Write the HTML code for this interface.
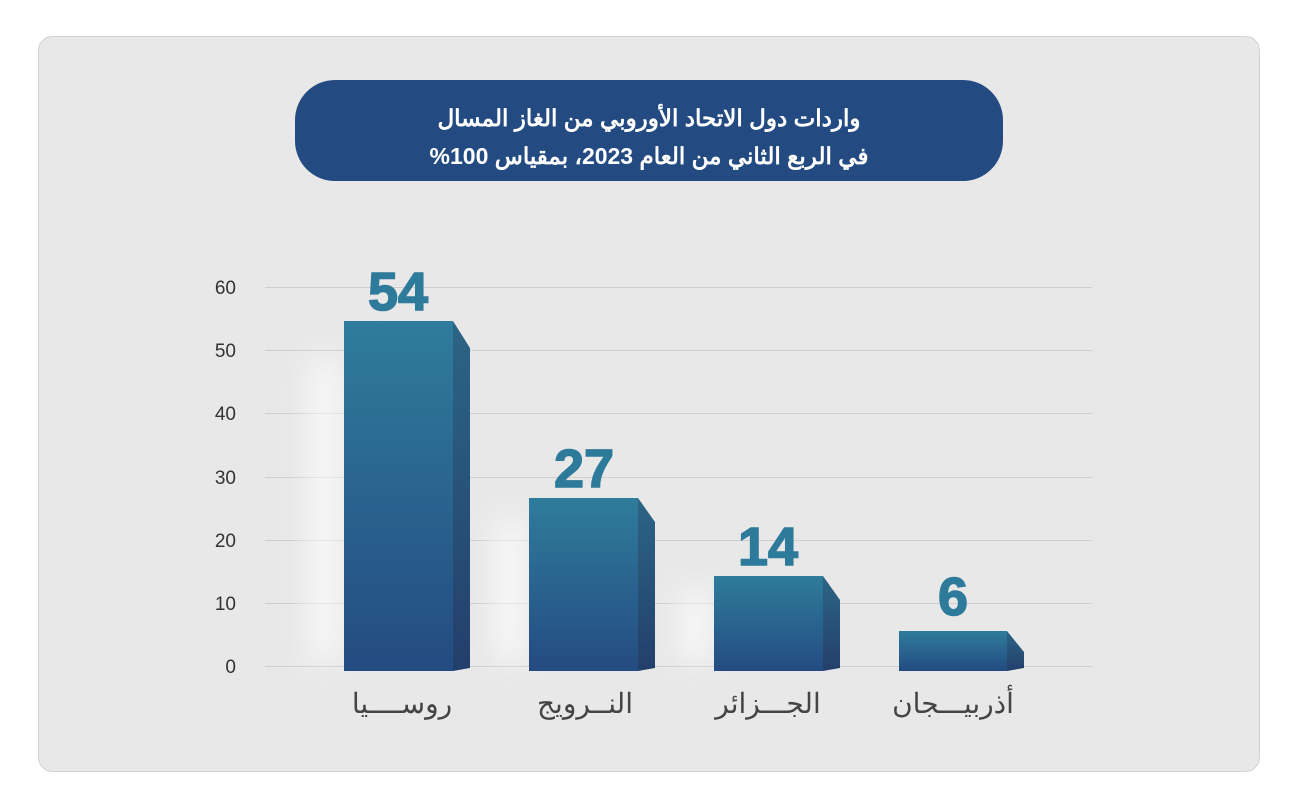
<!DOCTYPE html>
<html><head><meta charset="utf-8">
<style>
html,body{margin:0;padding:0;background:#fff;width:1296px;height:801px;overflow:hidden}
svg{display:block}
</style></head>
<body>
<svg width="1296" height="801" viewBox="0 0 1296 801" xmlns="http://www.w3.org/2000/svg">
<defs>
<linearGradient id="fg" x1="0" y1="0" x2="0" y2="1">
<stop offset="0" stop-color="#2f7c9c"/><stop offset="1" stop-color="#244b81"/>
</linearGradient>
<linearGradient id="sg" x1="0" y1="0" x2="0" y2="1">
<stop offset="0" stop-color="#2c6585"/><stop offset="1" stop-color="#233f6b"/>
</linearGradient>
<filter id="bl" x="-50%" y="-50%" width="200%" height="200%"><feGaussianBlur stdDeviation="14"/></filter>
</defs>
<rect x="38.5" y="36.5" width="1221" height="735" rx="14" fill="#e8e8e8" stroke="#d2d2d2"/>
<rect x="295" y="80" width="708" height="101" rx="40" fill="#244b81"/>
<text x="649" y="126" text-anchor="middle" fill="#fff" font-family="'Liberation Sans','Noto Sans CJK SC',sans-serif" font-weight="bold" font-size="23" direction="rtl">واردات دول الاتحاد الأوروبي من الغاز المسال</text>
<text x="649" y="164" text-anchor="middle" fill="#fff" font-family="'Liberation Sans','Noto Sans CJK SC',sans-serif" font-weight="bold" font-size="23" direction="rtl">في الربع الثاني من العام 2023، بمقياس 100%</text>
<g stroke="#cfcfcf" stroke-width="1">
<line x1="265" y1="287.5" x2="1092" y2="287.5"/>
<line x1="265" y1="350.5" x2="1092" y2="350.5"/>
<line x1="265" y1="413.5" x2="1092" y2="413.5"/>
<line x1="265" y1="477.5" x2="1092" y2="477.5"/>
<line x1="265" y1="540.5" x2="1092" y2="540.5"/>
<line x1="265" y1="603.5" x2="1092" y2="603.5"/>
<line x1="265" y1="666.5" x2="1092" y2="666.5"/>
</g>
<g font-family="'Liberation Sans',sans-serif" font-size="19" fill="#333" text-anchor="end">
<text x="236" y="294">60</text><text x="236" y="357">50</text><text x="236" y="420">40</text>
<text x="236" y="484">30</text><text x="236" y="547">20</text><text x="236" y="610">10</text>
<text x="236" y="673">0</text>
</g>
<g fill="#fff" opacity="0.7" filter="url(#bl)">
<rect x="310" y="360" width="30" height="300"/>
<rect x="495" y="520" width="30" height="140"/>
<rect x="680" y="590" width="30" height="70"/>
</g>
<g>
<polygon points="453,321 470,348 470,668 453,671" fill="url(#sg)"/>
<rect x="344" y="321" width="109" height="350" fill="url(#fg)"/>
<polygon points="638,498 655,522 655,668 638,671" fill="url(#sg)"/>
<rect x="529" y="498" width="109" height="173" fill="url(#fg)"/>
<polygon points="823,576 840,600 840,668 823,671" fill="url(#sg)"/>
<rect x="714" y="576" width="109" height="95" fill="url(#fg)"/>
<polygon points="1007,631 1024,652 1024,668 1007,671" fill="url(#sg)"/>
<rect x="899" y="631" width="108" height="40" fill="url(#fg)"/>
</g>
<g font-family="'Liberation Sans Narrow','Liberation Sans',sans-serif" font-weight="bold" font-size="54" fill="#2e7a9a" text-anchor="middle" stroke="#2e7a9a" stroke-width="1.5">
<text x="398" y="310">54</text>
<text x="584" y="487">27</text>
<text x="768" y="565">14</text>
<text x="953" y="615">6</text>
</g>
<g font-family="'Liberation Sans','Noto Sans CJK SC',sans-serif" font-size="28" fill="#444" text-anchor="middle" direction="rtl">
<text x="402" y="713">روســــيا</text>
<text x="585" y="713">النــرويج</text>
<text x="768" y="713">الجـــزائر</text>
<text x="953" y="713">أذربيـــجان</text>
</g>
</svg>
</body></html>
